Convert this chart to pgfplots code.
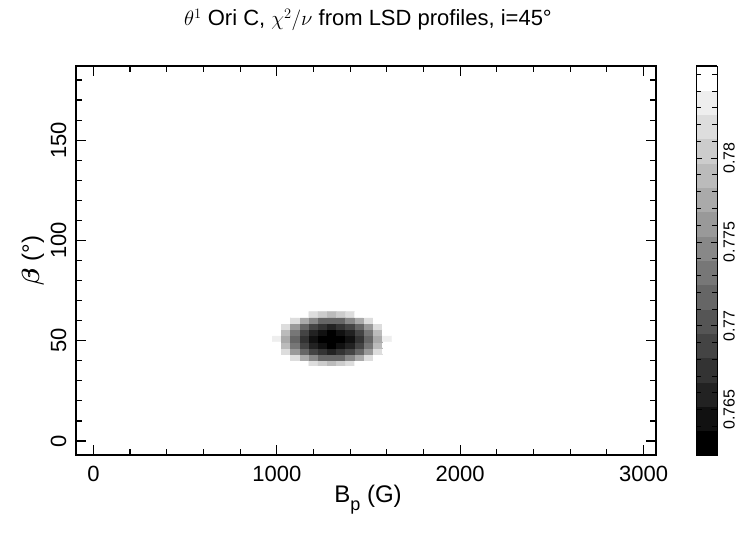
\documentclass[border=0pt]{standalone}
\usepackage{pgfplots}
\pgfplotsset{compat=1.18}
\usepackage{fontspec}
\setmainfont{Liberation Sans}
\usepackage{bm}
\begin{document}
\begin{tikzpicture}[x=1pt,y=1pt]
\path[use as bounding box] (0,0) rectangle (741,539);
\begin{axis}[
  at={(76pt,84pt)}, anchor=south west,
  width=580pt, height=389pt, scale only axis,
  xmin=-95, xmax=3068, ymin=-7, ymax=187,
  axis on top,
  axis line style={line width=1.2pt},
  every tick/.style={black, line width=1.2pt},
  tick align=inside, xtick pos=both, ytick pos=both,
  xticklabel pos=lower, yticklabel pos=left,
  major tick length=10pt, minor tick length=6pt,
  xtick={0,1000,2000,3000},
  minor xtick={200,400,600,800,1200,1400,1600,1800,2200,2400,2600,2800},
  ytick={0,50,100,150},
  minor ytick={10,20,30,40,60,70,80,90,110,120,130,140,160,170,180},
  /pgf/number format/assume math mode=true,
  /pgf/number format/1000 sep={},
  scaled ticks=false,
  ticklabel style={font=\fontsize{22}{26}\selectfont},
  xticklabel style={anchor=base, yshift=-26pt},
  yticklabel style={xshift=-10pt, rotate=90, anchor=base},
  point meta min=0.7623, point meta max=0.7855,
  colormap={bw}{gray(0cm)=(0); gray(1cm)=(0.0667); gray(2cm)=(0.1333); gray(3cm)=(0.2); gray(4cm)=(0.2667); gray(5cm)=(0.3333); gray(6cm)=(0.4); gray(7cm)=(0.4667); gray(8cm)=(0.5333); gray(9cm)=(0.6); gray(10cm)=(0.6667); gray(11cm)=(0.7333); gray(12cm)=(0.8); gray(13cm)=(0.8667); gray(14cm)=(0.9333); gray(15cm)=(1); gray(16cm)=(1)},
  colormap access=piecewise constant,
  colorbar right,
  colorbar shift/.style={xshift=25pt},
  colorbar style={
    width=21pt,
    axis line style={line width=1.2pt},
    every tick/.style={black, line width=1pt},
    tick align=inside,
    ytick pos=both, yticklabel pos=right,
    major tick length=6pt, minor tick length=5pt,
    scaled y ticks=false,
    ytick={0.765,0.77,0.775,0.78},
    yticklabels={0.765,0.77,0.775,0.78},
    minor ytick={0.763,0.764,0.766,0.767,0.768,0.769,0.771,0.772,0.773,0.774,0.776,0.777,0.778,0.779,0.781,0.782,0.783,0.784,0.785},
    yticklabel style={xshift=6pt, rotate=90, anchor=north, inner sep=0pt, font=\fontsize{16}{18}\selectfont},
  },
]
\addplot[matrix plot*, mesh/cols=13, point meta=explicit] table[meta=v]{
x y v
1000 39 0.8011
1050 39 0.7945
1100 39 0.7890
1150 39 0.7848
1200 39 0.7817
1250 39 0.7799
1300 39 0.7793
1350 39 0.7799
1400 39 0.7817
1450 39 0.7848
1500 39 0.7890
1550 39 0.7945
1600 39 0.8011
1000 42 0.7936
1050 42 0.7870
1100 42 0.7815
1150 42 0.7773
1200 42 0.7742
1250 42 0.7724
1300 42 0.7718
1350 42 0.7724
1400 42 0.7742
1450 42 0.7773
1500 42 0.7815
1550 42 0.7870
1600 42 0.7936
1000 45 0.7883
1050 45 0.7816
1100 45 0.7762
1150 45 0.7719
1200 45 0.7689
1250 45 0.7671
1300 45 0.7665
1350 45 0.7671
1400 45 0.7689
1450 45 0.7719
1500 45 0.7762
1550 45 0.7816
1600 45 0.7883
1000 48 0.7851
1050 48 0.7784
1100 48 0.7730
1150 48 0.7687
1200 48 0.7657
1250 48 0.7639
1300 48 0.7633
1350 48 0.7639
1400 48 0.7657
1450 48 0.7687
1500 48 0.7730
1550 48 0.7784
1600 48 0.7851
1000 51 0.7840
1050 51 0.7774
1100 51 0.7719
1150 51 0.7677
1200 51 0.7646
1250 51 0.7628
1300 51 0.7622
1350 51 0.7628
1400 51 0.7646
1450 51 0.7677
1500 51 0.7719
1550 51 0.7774
1600 51 0.7840
1000 54 0.7851
1050 54 0.7784
1100 54 0.7730
1150 54 0.7687
1200 54 0.7657
1250 54 0.7639
1300 54 0.7633
1350 54 0.7639
1400 54 0.7657
1450 54 0.7687
1500 54 0.7730
1550 54 0.7784
1600 54 0.7851
1000 57 0.7883
1050 57 0.7816
1100 57 0.7762
1150 57 0.7719
1200 57 0.7689
1250 57 0.7671
1300 57 0.7665
1350 57 0.7671
1400 57 0.7689
1450 57 0.7719
1500 57 0.7762
1550 57 0.7816
1600 57 0.7883
1000 60 0.7936
1050 60 0.7870
1100 60 0.7815
1150 60 0.7773
1200 60 0.7742
1250 60 0.7724
1300 60 0.7718
1350 60 0.7724
1400 60 0.7742
1450 60 0.7773
1500 60 0.7815
1550 60 0.7870
1600 60 0.7936
1000 63 0.8011
1050 63 0.7945
1100 63 0.7890
1150 63 0.7848
1200 63 0.7817
1250 63 0.7799
1300 63 0.7793
1350 63 0.7799
1400 63 0.7817
1450 63 0.7848
1500 63 0.7890
1550 63 0.7945
1600 63 0.8011
};
\end{axis}
\node[anchor=base, font=\fontsize{22}{26}\selectfont] at (368,513) {$\theta^1$ Ori C, $\chi^2/\nu$ from LSD profiles, i=45°};
\node[anchor=base, font=\fontsize{24}{28}\selectfont] at (368,37) {B\raisebox{-0.35em}{\fontsize{18}{20}\selectfont p} (G)};
\node[rotate=90, anchor=center, font=\fontsize{24}{28}\selectfont] at (33,278.5) {$\bm{\beta}$ (°)};
\end{tikzpicture}
\end{document}
